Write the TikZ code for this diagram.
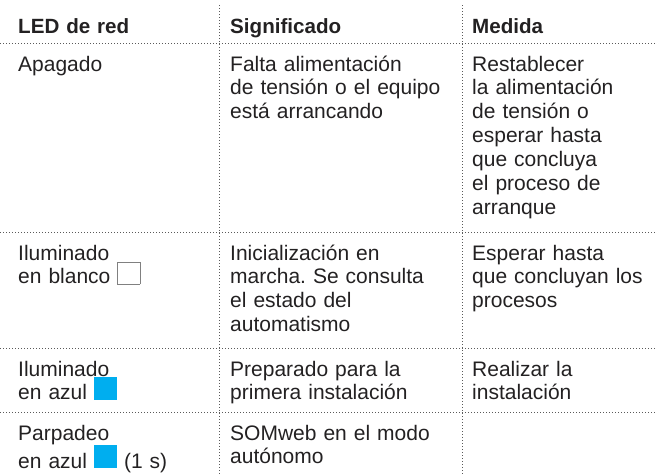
\documentclass[tikz,border=0pt]{standalone}
\usepackage{fontspec}
\setmainfont{Liberation Sans}
\usepackage{xcolor}
\usetikzlibrary{positioning, calc}
\frenchspacing

\definecolor{ink}{RGB}{35,33,34}
\definecolor{dotgray}{RGB}{90,90,90}
\definecolor{ledblue}{RGB}{0,174,239}

\newcommand{\azulsq}{\textcolor{ledblue}{\rule{23pt}{23pt}}}
\newcommand{\blancosq}{{\setlength{\fboxsep}{0pt}\setlength{\fboxrule}{0.8pt}\fcolorbox{gray}{white}{\rule{0pt}{21.4pt}\rule{21.4pt}{0pt}}}}

\begin{document}
\begin{tikzpicture}[x=1pt, y=-1pt,
    txt/.style={anchor=base west, inner sep=0pt, align=left, text width=185pt, text=ink, font=\fontsize{21}{23.9}\selectfont},
    hd/.style={txt, font=\fontsize{20.6}{23.9}\selectfont\bfseries},
    rule/.style={draw=dotgray, line width=0.9pt, dash pattern=on 0.9pt off 2.1pt}]
    \useasboundingbox (0, 0) rectangle (657, 475);

    % grid
    \draw[rule] (219, 5) -- (219, 475);
    \draw[rule] (462, 5) -- (462, 475);
    \foreach \y in {43, 232, 348, 412}
        \draw[rule] (0, \y) -- (657, \y);

    % header
    \node[hd] (led) at (18, 33) {LED de red};
    \node[hd] (sig) at (230, 33) {Significado};
    \node[hd] (med) at (472, 33) {Medida};

    % rows
    \node[txt] (led1) at (18, 71) {Apagado};
    \node[txt, text width=225pt] (sig1) at (230, 71) {Falta alimentación\\de tensión o el equipo\\está arrancando};
    \node[txt] (med1) at (472, 71) {Restablecer\\la alimentación\\de tensión o\\esperar hasta\\que concluya\\el proceso de\\arranque};

    \node[txt] (led2) at (18, 260) {Iluminado\\en blanco \blancosq};
    \node[txt, text width=225pt] (sig2) at (230, 260) {Inicialización en\\marcha. Se consulta\\el estado del\\automatismo};
    \node[txt] (med2) at (472, 260) {Esperar hasta\\que concluyan los\\procesos};

    \node[txt] (led3) at (18, 376) {Iluminado\\en azul \azulsq};
    \node[txt, text width=225pt] (sig3) at (230, 376) {Preparado para la\\primera instalación};
    \node[txt] (med3) at (472, 376) {Realizar la\\instalación};

    \node[txt] (led4) at (18, 440) {Parpadeo\\en azul \azulsq{} (1 s)};
    \node[txt, text width=225pt] (sig4) at (230, 440) {SOMweb en el modo\\autónomo};
\end{tikzpicture}
\end{document}
